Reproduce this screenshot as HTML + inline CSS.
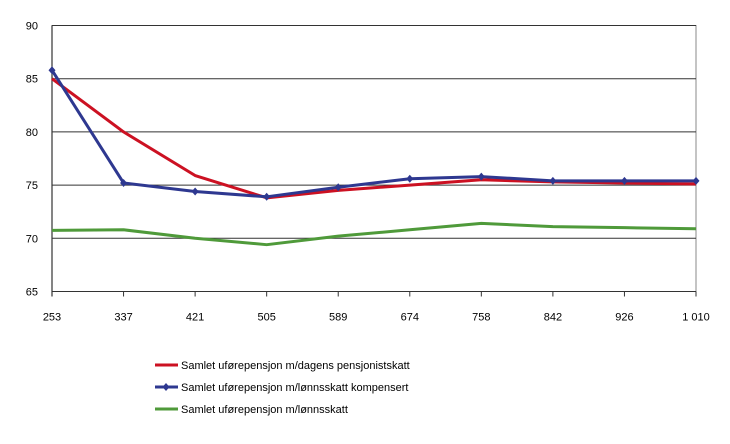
<!DOCTYPE html>
<html><head><meta charset="utf-8"><style>
body{margin:0;background:#fff;font-family:"Liberation Sans",sans-serif;}
svg text{font-family:"Liberation Sans",sans-serif;font-size:11px;fill:#000;}
</style></head><body>
<svg id="chart" width="730" height="439" viewBox="0 0 730 439"></svg>
<script>
const categories=["253","337","421","505","589","674","758","842","926","1 010"];
const yTicks=[65,70,75,80,85,90];
const redValues=[85.0,80.0,75.9,73.8,74.5,75.0,75.5,75.3,75.2,75.1];
const blueValues=[85.8,75.2,74.4,73.9,74.8,75.6,75.8,75.4,75.4,75.4];
const greenValues=[70.75,70.8,70.0,69.4,70.2,70.8,71.4,71.1,71.0,70.9];
const seriesNames=["Samlet uførepensjon m/dagens pensjonistskatt","Samlet uførepensjon m/lønnsskatt kompensert","Samlet uførepensjon m/lønnsskatt"];

const NS="http://www.w3.org/2000/svg";
const svg=document.getElementById('chart');
const X0=52,X1=696,Y0=291.5,Y1=25.5,ymin=65,ymax=90;
const xs=i=>X0+i*(X1-X0)/(categories.length-1);
const ys=v=>Y0-(v-ymin)/(ymax-ymin)*(Y0-Y1);
function mk(t,a){const e=document.createElementNS(NS,t);for(const k in a)e.setAttribute(k,a[k]);svg.appendChild(e);return e;}

const frame=mk('rect',{x:X0,y:Y1,width:X1-X0,height:Y0-Y1,fill:'none',stroke:'#888','stroke-width':1});


yTicks.forEach(v=>{
  const g=mk('line',{x1:X0,x2:X1,y1:ys(v),y2:ys(v),stroke:'#333','stroke-width':1});
  
  
  const t=mk('text',{x:X0-14,y:ys(v)+4,'text-anchor':'end'});t.textContent=v;
  
  
});
const ax=mk('line',{x1:X0,x2:X0,y1:Y1,y2:Y0+5,stroke:'#333','stroke-width':1.2});


categories.forEach((c,i)=>{
  const tk=mk('line',{x1:xs(i),x2:xs(i),y1:Y0,y2:Y0+5,stroke:'#333'});
  
  
  const t=mk('text',{x:xs(i),y:Y0+29,'text-anchor':'middle'});t.textContent=c;
  
  
});
function series(vals,color,name,markers){
  const p=mk('polyline',{points:vals.map((v,i)=>xs(i)+','+ys(v)).join(' '),fill:'none',stroke:color,'stroke-width':3,'stroke-linejoin':'round'});
  
  
  if(markers)vals.forEach((v,i)=>{
    const x=xs(i),y=ys(v);
    const m=mk('polygon',{points:`${x},${y-4} ${x+3.5},${y} ${x},${y+4} ${x-3.5},${y}`,fill:color});
    
    
  });
}
series(greenValues,'#4f9a3a','series-lonnsskatt',false);
series(redValues,'#cc1122','series-pensjonistskatt',false);
series(blueValues,'#2e3890','series-lonnsskatt-kompensert',true);

const colors=['#cc1122','#2e3890','#4f9a3a'];
seriesNames.forEach((n,i)=>{
  const y=365+i*22;
  const l=mk('line',{x1:155,x2:178,y1:y,y2:y,stroke:colors[i],'stroke-width':3});
  
  
  if(i==1){const m=mk('polygon',{points:`166,${y-4} 169.5,${y} 166,${y+4} 162.5,${y}`,fill:colors[i]});
    
    }
  const t=mk('text',{x:181,y:y+4});t.textContent=n;
  
  
});
</script>
</body></html>
